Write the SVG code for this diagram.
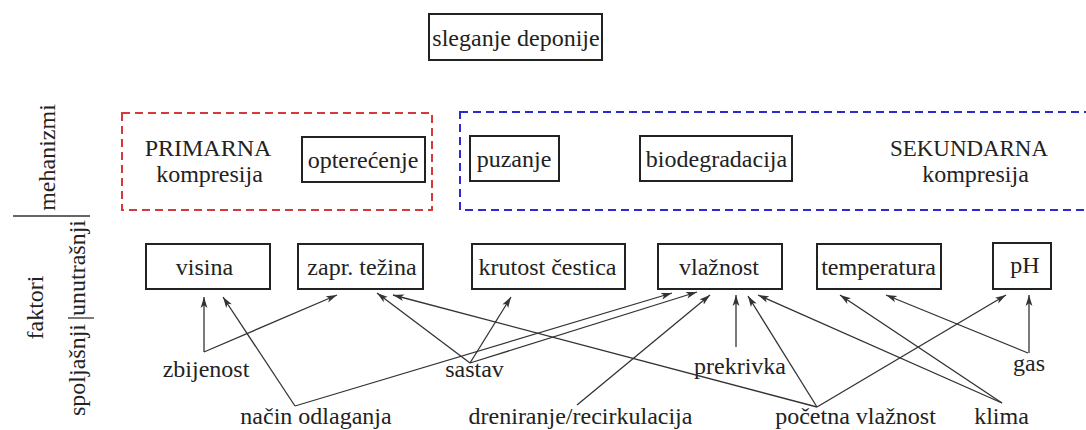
<svg xmlns="http://www.w3.org/2000/svg" width="1086" height="430" viewBox="0 0 1086 430">
<defs>
<marker id="arr" markerUnits="userSpaceOnUse" markerWidth="12" markerHeight="8" refX="11" refY="4" orient="auto">
<path d="M0,0.6 L11,4 L0,7.4 L2.8,4 z" fill="#333"/>
</marker>
<style>
text{font-family:"Liberation Serif","Times New Roman",serif;font-size:24px;fill:#222;text-anchor:middle}
.box{fill:none;stroke:#222;stroke-width:2}
.grp-red{fill:none;stroke:#d43a3a;stroke-width:2;stroke-dasharray:8 5}
.grp-blue{fill:none;stroke:#2b2bd0;stroke-width:2;stroke-dasharray:8 5}
.con line{stroke:#333;stroke-width:1.3;marker-end:url(#arr)}
.sep{stroke:#333;stroke-width:1.3}
</style>
</defs>
<rect width="1086" height="430" fill="#fff"/>

<g id="axis-labels">
<line class="sep" x1="13" y1="216" x2="90" y2="216"/>
<line class="sep" x1="68" y1="318" x2="94" y2="318"/>
<text transform="translate(55,157.5) rotate(-90)">mehanizmi</text>
<text transform="translate(43,307.5) rotate(-90)">faktori</text>
<text transform="translate(85,268) rotate(-90)">unutrašnji</text>
<text transform="translate(85,370) rotate(-90)">spoljašnji</text>
</g>

<g id="sleganje">
<rect class="box" x="429" y="14" width="173" height="46"/>
<text x="516" y="46">sleganje deponije</text>
</g>

<g id="primarna">
<rect class="grp-red" x="122" y="113" width="310" height="97"/>
<text x="208" y="156">PRIMARNA</text>
<text x="209.5" y="182">kompresija</text>
</g>

<g id="sekundarna">
<rect class="grp-blue" x="460" y="112" width="640" height="98"/>
<text x="969" y="156" textLength="158" lengthAdjust="spacingAndGlyphs">SEKUNDARNA</text>
<text x="975.5" y="182">kompresija</text>
</g>

<g id="opterecenje">
<rect class="box" x="302" y="137" width="123" height="45"/>
<text x="363" y="168">opterećenje</text>
</g>
<g id="puzanje">
<rect class="box" x="470" y="136" width="89" height="45"/>
<text x="514" y="167">puzanje</text>
</g>
<g id="biodegradacija">
<rect class="box" x="640" y="136" width="152" height="45"/>
<text x="716.5" y="167">biodegradacija</text>
</g>

<g id="visina">
<rect class="box" x="146" y="244" width="124" height="45"/>
<text x="204.5" y="275">visina</text>
</g>
<g id="zapr-tezina">
<rect class="box" x="298" y="244" width="125" height="45"/>
<text x="362" y="275">zapr. težina</text>
</g>
<g id="krutost">
<rect class="box" x="472" y="244" width="153" height="45"/>
<text x="547.5" y="275">krutost čestica</text>
</g>
<g id="vlaznost">
<rect class="box" x="658" y="244" width="124" height="45"/>
<text x="719" y="275">vlažnost</text>
</g>
<g id="temperatura">
<rect class="box" x="817" y="244" width="124" height="45"/>
<text x="878.5" y="275">temperatura</text>
</g>
<g id="ph">
<rect class="box" x="993" y="243" width="58" height="46"/>
<text x="1025" y="273">pH</text>
</g>

<g id="zbijenost"><text x="206" y="377">zbijenost</text></g>
<g id="sastav"><text x="474.5" y="377">sastav</text></g>
<g id="prekrivka"><text x="740" y="374">prekrivka</text></g>
<g id="gas"><text x="1029" y="371">gas</text></g>
<g id="nacin-odlaganja"><text x="316" y="424">način odlaganja</text></g>
<g id="dreniranje"><text x="580.5" y="424">dreniranje/recirkulacija</text></g>
<g id="pocetna-vlaznost"><text x="855.5" y="424">početna vlažnost</text></g>
<g id="klima"><text x="1001.5" y="424">klima</text></g>

<g id="connectors" class="con">
<line x1="204" y1="352" x2="204" y2="297"/>
<line x1="204" y1="352" x2="337" y2="295"/>
<line x1="295" y1="406" x2="223" y2="297"/>
<line x1="295" y1="406" x2="672" y2="293"/>
<line x1="470" y1="363" x2="377" y2="293"/>
<line x1="470" y1="363" x2="511" y2="297"/>
<line x1="470" y1="363" x2="697" y2="292"/>
<line x1="817" y1="407" x2="393" y2="295"/>
<line x1="577" y1="405" x2="710" y2="295"/>
<line x1="736" y1="347" x2="736" y2="295"/>
<line x1="817" y1="407" x2="748" y2="296"/>
<line x1="1002" y1="403" x2="758" y2="295"/>
<line x1="1002" y1="403" x2="840" y2="295"/>
<line x1="1028" y1="353" x2="886" y2="295"/>
<line x1="1029" y1="353" x2="1029" y2="295"/>
<line x1="817" y1="407" x2="1006" y2="295"/>
</g>
</svg>
